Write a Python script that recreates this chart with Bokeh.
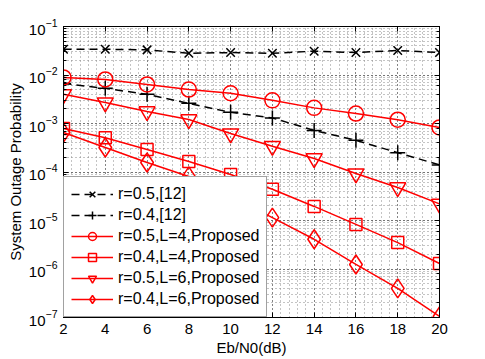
from bokeh.plotting import figure
from bokeh.models import (Range1d, FixedTicker, LinearAxis, LogAxis, Legend, LegendItem, LogTicker)
from bokeh.embed import file_html
from bokeh.resources import INLINE

# ---- data ----
ebn0 = [2, 4, 6, 8, 10, 12, 14, 16, 18, 20]
r05_ref12 = [0.034, 0.034, 0.033, 0.028, 0.029, 0.028, 0.031, 0.029, 0.032, 0.029]
r04_ref12 = [0.0067, 0.0053, 0.0040, 0.0026, 0.0017, 0.0013, 0.00072, 0.00045, 0.00025, 0.00014]
r05_L4 = [0.0089, 0.0081, 0.0064, 0.0050, 0.0042, 0.0030, 0.0021, 0.0016, 0.0012, 0.00083]
r04_L4 = [7.9e-4, 5.1e-4, 2.9e-4, 1.64e-4, 8.9e-5, 4.4e-5, 1.95e-5, 8.3e-6, 3.5e-6, 1.3e-6]
r05_L6 = [4.0e-3, 2.7e-3, 1.77e-3, 1.21e-3, 6.2e-4, 3.4e-4, 1.9e-4, 9.3e-5, 4.8e-5, 2.2e-5]
r04_L6 = [6.5e-4, 3.2e-4, 1.57e-4, 8.1e-5, 3.1e-5, 1.15e-5, 4.1e-6, 1.24e-6, 4.0e-7, 1.05e-7]
labels = ["r=0.5,[12]", "r=0.4,[12]", "r=0.5,L=4,Proposed", "r=0.4,L=4,Proposed",
          "r=0.5,L=6,Proposed", "r=0.4,L=6,Proposed"]
x_ticks = [2, 4, 6, 8, 10, 12, 14, 16, 18, 20]
x_minor = [2 + 0.4 * i for i in range(46)]

FONT = "Liberation Sans"
FS = "15px"

p = figure(width=485, height=359, y_axis_type="log", output_backend="svg",
           toolbar_location=None, x_range=Range1d(2, 20), y_range=Range1d(1e-7, 1e-1),
           min_border_left=63, min_border_right=46, min_border_top=26, min_border_bottom=42)
p.outline_line_color = "black"
p.outline_line_width = 1
p.background_fill_color = "white"
p.border_fill_color = "white"

xt = FixedTicker(ticks=x_ticks, minor_ticks=x_minor)
p.xaxis.ticker = xt
p.xaxis.axis_label = "Eb/N0(dB)"
p.yaxis.axis_label = "System Outage Probability"
for ax in (p.xaxis[0], p.yaxis[0]):
    ax.major_tick_in = 5
    ax.major_tick_out = 0
    ax.minor_tick_in = 3
    ax.minor_tick_out = 0
    ax.axis_line_color = "black"
    ax.major_label_text_font = FONT
    ax.major_label_text_font_size = FS
    ax.major_label_text_color = "black"
    ax.axis_label_text_font = FONT
    ax.axis_label_text_font_size = FS
    ax.axis_label_text_font_style = "normal"
    ax.axis_label_text_color = "black"
    ax.axis_label_standoff = 2
    ax.major_label_standoff = 6
p.xaxis.minor_tick_in = 0

# mirror axes (top/right) with ticks only
top = LinearAxis(ticker=xt, major_label_text_font_size="1px", major_label_text_color=None,
                 major_tick_in=5, major_tick_out=0, minor_tick_in=0, minor_tick_out=0,
                 major_label_standoff=0)
right = LogAxis(ticker=LogTicker(), major_label_text_font_size="1px", major_label_text_color=None,
                major_tick_in=5, major_tick_out=0, minor_tick_in=3, minor_tick_out=0,
                major_label_standoff=0)
p.add_layout(top, "above")
p.add_layout(right, "right")

# grids
p.xgrid.ticker = xt
for g in (p.xgrid[0], p.ygrid[0]):
    g.grid_line_color = "#444444"
    g.grid_line_dash = "1 3"
    g.grid_line_width = 1
    g.minor_grid_line_color = "#888888"
    g.minor_grid_line_dash = "1 3"
    g.minor_grid_line_width = 1

series = [
    (r05_ref12, "black", "dashed", "x", 12),
    (r04_ref12, "black", "dashed", "cross", 15),
    (r05_L4, "red", "solid", "circle", 15),
    (r04_L4, "red", "solid", "square", 12),
    (r05_L6, "red", "solid", "inverted_triangle", 16),
    (r04_L6, "red", "solid", "diamond", 19),
]
items = []
for (ys, col, dash, mk, sz), lab in zip(series, labels):
    ld = "8 5" if dash == "dashed" else "solid"
    l = p.line(ebn0, ys, line_color=col, line_width=1.5, line_dash=ld)
    s = p.scatter(ebn0, ys, marker=mk, size=sz, line_color=col, line_width=1.5, fill_color=None)
    items.append(LegendItem(label=lab, renderers=[l, s]))

leg = Legend(items=items, location="bottom_left", margin=0, padding=7, spacing=1,
             label_height=20, glyph_height=20, glyph_width=42, label_standoff=5,
             label_text_font=FONT, label_text_font_size="16px", label_text_color="black",
             border_line_color="#444444", border_line_width=1,
             background_fill_color="white", background_fill_alpha=1)
p.add_layout(leg, "center")

open("out.html", "w").write(file_html(p, INLINE))
